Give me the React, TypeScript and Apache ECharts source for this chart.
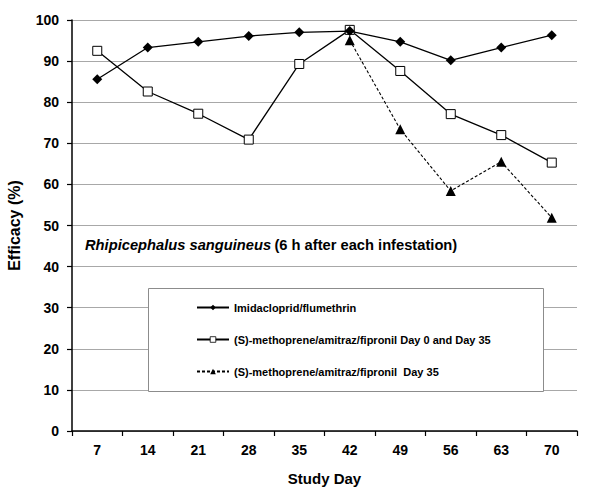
import React, { useEffect, useRef } from "react";
import * as echarts from "echarts";

const days = ["7", "14", "21", "28", "35", "42", "49", "56", "63", "70"];
const imidacloprid = [85.6, 93.3, 94.7, 96.1, 97.0, 97.3, 94.7, 90.2, 93.3, 96.3];
const methopreneBoth = [92.5, 82.6, 77.2, 70.9, 89.3, 97.6, 87.6, 77.1, 72.0, 65.3];
const methoprene35 = [null, null, null, null, null, 95.1, 73.4, 58.4, 65.5, 51.9];
const seriesNames = [
  "Imidacloprid/flumethrin",
  "(S)-methoprene/amitraz/fipronil Day 0 and Day 35",
  "(S)-methoprene/amitraz/fipronil  Day 35",
];
const yTicks = { min: 0, max: 100, interval: 10 };

const FONT = "'Liberation Sans', Arial, sans-serif";

export default function App() {
  const ref = useRef<HTMLDivElement>(null);
  useEffect(() => {
    if (!ref.current) return;
    const chart = echarts.init(ref.current, undefined, { renderer: "svg" });
    chart.setOption({
      animation: false,
      backgroundColor: "#ffffff",
      textStyle: { fontFamily: FONT },
      grid: { left: 72, right: 23, top: 20, bottom: 64, containLabel: false, outerBoundsMode: "none" },
      xAxis: {
        type: "category",
        data: days,
        boundaryGap: true,
        name: "Study Day",
        nameLocation: "middle",
        nameGap: 40,
        nameTextStyle: { fontSize: 15, fontWeight: "bold", color: "#000", fontFamily: FONT },
        axisLine: { lineStyle: { color: "#000", width: 1.5 } },
        axisTick: { show: true, length: 5, inside: false, lineStyle: { color: "#000", width: 1.2 } },
        axisLabel: { fontSize: 14, fontWeight: "bold", color: "#000", margin: 12, fontFamily: FONT },
        splitLine: { show: false },
      },
      yAxis: {
        type: "value",
        min: yTicks.min,
        max: yTicks.max,
        interval: yTicks.interval,
        name: "Efficacy (%)",
        nameLocation: "middle",
        nameGap: 50,
        nameTextStyle: { fontSize: 16, fontWeight: "bold", color: "#000", fontFamily: FONT },
        axisLine: { show: true, lineStyle: { color: "#000", width: 1.5 } },
        axisTick: { show: true, length: 5, lineStyle: { color: "#000", width: 1.2 } },
        axisLabel: { fontSize: 14, fontWeight: "bold", color: "#000", margin: 13, fontFamily: FONT },
        splitLine: { show: true, lineStyle: { color: "#a8a8a8", width: 1 } },
      },
      legend: {
        show: true,
        orient: "vertical",
        left: 196,
        top: 302,
        itemWidth: 32,
        itemHeight: 7,
        itemGap: 21,
        padding: 0,
        textStyle: { fontSize: 11, fontWeight: "bold", color: "#000", fontFamily: FONT },
        data: [
          { name: seriesNames[0] },
          { name: seriesNames[1], itemStyle: { borderWidth: 0.8, color: "#fff", borderColor: "#000" } },
          { name: seriesNames[2] },
        ],
        z: 20,
      },
      graphic: [
        {
          type: "rect",
          shape: { x: 148.5, y: 288.5, width: 395, height: 103 },
          style: { fill: "#ffffff", stroke: "#8c8c8c", lineWidth: 1 },
          z: 10,
        },
        {
          type: "text",
          x: 85,
          y: 245,
          style: {
            text: "{i|Rhipicephalus sanguineus} {n|(6 h after each infestation)}",
            rich: {
              i: { fontSize: 14.7, fontWeight: "bold", fontStyle: "italic", fontFamily: FONT, fill: "#000" },
              n: { fontSize: 14.7, fontWeight: "bold", fontFamily: FONT, fill: "#000" },
            },
            verticalAlign: "middle",
          },
          z: 10,
        },
      ],
      series: [
        {
          name: seriesNames[0],
          type: "line",
          data: imidacloprid,
          symbol: "diamond",
          symbolSize: 10,
          itemStyle: { color: "#000" },
          lineStyle: { color: "#000", width: 1.3 },
          z: 5,
        },
        {
          name: seriesNames[1],
          type: "line",
          data: methopreneBoth,
          symbol: "rect",
          symbolSize: 9,
          itemStyle: { color: "#ffffff", borderColor: "#000", borderWidth: 1 },
          lineStyle: { color: "#000", width: 1.3 },
          z: 4,
        },
        {
          name: seriesNames[2],
          type: "line",
          data: methoprene35,
          symbol: "triangle",
          symbolSize: 10,
          connectNulls: false,
          itemStyle: { color: "#000" },
          lineStyle: { color: "#000", width: 1.1, type: [3, 2] },
          z: 3,
        },
      ],
    });
    return () => chart.dispose();
  }, []);
  return <div ref={ref} style={{ width: 600, height: 495, position: "absolute", left: 0, top: 0 }} />;
}
